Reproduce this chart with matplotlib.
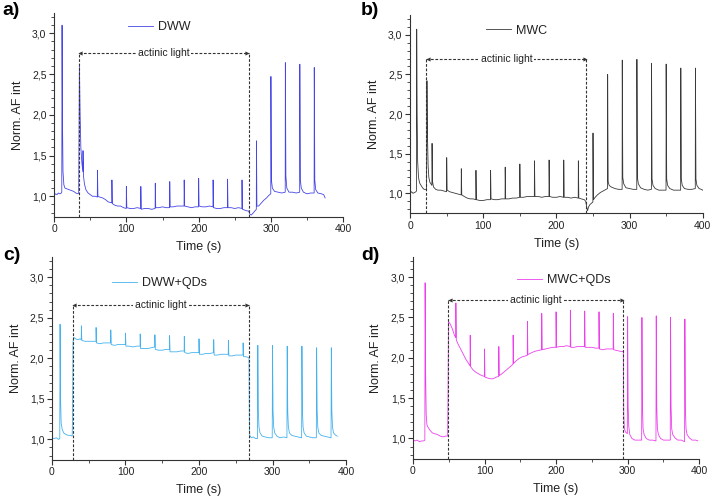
import matplotlib
matplotlib.use("Agg")
import matplotlib.pyplot as plt
from matplotlib.ticker import MultipleLocator, FuncFormatter

plt.rcParams['font.family'] = ['Liberation Sans', 'DejaVu Sans']

# ---------------- data (time s, normalised AF intensity) ----------------
a_points = [(0,1.01),(2,1.03),(4,1.02),(6,1.04),(8,1.03),(10,1.04),(10.6,1.05),(11,3.1),(11.6,1.9),(12.3,1.3),(13.5,1.14),(15,1.1),(18,1.09),(21,1.08),(24,1.07),(27,1.06),(30,1.04),(33,1.03),(34,1.04),(35,2.6),(36,2.0),(37,1.6),(38.5,1.4),(39.8,1.3),(40,1.56),(40.6,1.25),(42,1.15),(44,1.08),(47,1.04),(50,1.02),(53,1.0),(57,1.0),(59.8,0.99),(60,1.32),(60.6,1.0),(63,0.99),(67,0.98),(71,0.96),(75,0.93),(79.8,0.92),(80,1.2),(80.6,0.91),(84,0.89),(88,0.88),(92,0.88),(96,0.86),(99.8,0.85),(100,1.12),(100.6,0.86),(105,0.85),(110,0.85),(115,0.86),(119.8,0.85),(120,1.12),(120.6,0.84),(125,0.85),(130,0.85),(135,0.84),(139.8,0.85),(140,1.16),(140.6,0.86),(145,0.86),(150,0.87),(155,0.86),(159.8,0.86),(160,1.18),(160.6,0.87),(165,0.87),(170,0.88),(175,0.88),(179.8,0.88),(180,1.2),(180.6,0.88),(185,0.87),(190,0.86),(195,0.87),(199.8,0.87),(200,1.22),(200.6,0.88),(205,0.87),(210,0.87),(215,0.88),(219.8,0.87),(220,1.2),(220.6,0.86),(225,0.85),(230,0.85),(235,0.86),(239.8,0.86),(240,1.21),(240.6,0.86),(245,0.86),(250,0.85),(255,0.86),(259.8,0.85),(260,1.2),(260.6,0.84),(264,0.83),(267,0.82),(269,0.82),(271,0.78),(273,0.77),(275,0.79),(277,0.81),(279.8,0.84),(280,1.68),(280.6,0.88),(283,0.88),(286,0.91),(290,0.95),(294,0.98),(297,1.01),(299.8,1.03),(300,2.47),(300.7,1.2),(302,1.1),(305,1.06),(310,1.05),(315,1.04),(319.8,1.05),(320,2.64),(320.7,1.25),(322,1.1),(325,1.05),(330,1.05),(335,1.04),(339.8,1.05),(340,2.62),(340.7,1.2),(342,1.1),(345,1.05),(350,1.03),(355,1.04),(359.8,1.04),(360,2.58),(360.7,1.2),(362,1.08),(365,1.04),(370,1.03),(373,1.02),(375,0.98)]

b_points = [(0,1.0),(2,1.02),(4,1.0),(6,1.01),(8,1.02),(8.6,1.03),(9,3.07),(9.6,2.0),(10.3,1.4),(11.5,1.2),(13,1.13),(15,1.1),(17,1.07),(19,1.05),(21,1.05),(22.4,1.05),(23,2.42),(23.8,1.7),(24.6,1.35),(25.6,1.2),(27,1.14),(29.8,1.1),(30,1.63),(30.6,1.15),(32,1.08),(35,1.05),(38,1.04),(42,1.04),(46,1.03),(49.8,1.02),(50,1.45),(50.6,1.04),(54,1.02),(58,1.01),(62,1.0),(66,0.99),(69.8,0.98),(70,1.31),(70.6,0.98),(74,0.96),(78,0.94),(82,0.93),(86,0.93),(89.8,0.92),(90,1.29),(90.6,0.92),(95,0.91),(100,0.91),(105,0.92),(109.8,0.92),(110,1.29),(110.6,0.93),(115,0.92),(120,0.92),(125,0.93),(129.8,0.93),(130,1.33),(130.6,0.93),(135,0.93),(140,0.94),(145,0.94),(149.8,0.95),(150,1.37),(150.6,0.95),(155,0.95),(160,0.96),(165,0.96),(169.8,0.96),(170,1.41),(170.6,0.96),(175,0.96),(180,0.95),(185,0.96),(189.8,0.96),(190,1.42),(190.6,0.96),(195,0.95),(200,0.95),(205,0.96),(209.8,0.95),(210,1.42),(210.6,0.95),(215,0.95),(220,0.94),(225,0.95),(229.8,0.94),(230,1.41),(230.6,0.94),(234,0.93),(238,0.92),(240,0.9),(241.5,0.82),(242.5,0.78),(244,0.83),(246,0.86),(249.8,0.89),(250,1.76),(250.6,0.92),(253,0.95),(256,0.98),(260,1.01),(264,1.03),(268,1.05),(269.8,1.06),(270,2.5),(270.7,1.15),(272,1.1),(275,1.08),(280,1.06),(285,1.05),(289.8,1.05),(290,2.68),(290.7,1.2),(292,1.12),(295,1.07),(300,1.06),(305,1.05),(309.8,1.05),(310,2.69),(310.7,1.2),(312,1.12),(315,1.07),(320,1.05),(325,1.04),(329.8,1.05),(330,2.64),(330.7,1.18),(332,1.1),(335,1.06),(340,1.04),(345,1.04),(349.8,1.04),(350,2.63),(350.7,1.18),(352,1.1),(355,1.06),(360,1.04),(365,1.04),(369.8,1.04),(370,2.58),(370.7,1.18),(372,1.1),(375,1.06),(380,1.05),(385,1.05),(389.8,1.06),(390,2.58),(390.7,1.18),(392,1.1),(395,1.06),(398,1.05),(400,1.04)]

c_points = [(0,1.02),(3,1.01),(6,1.02),(9,1.0),(10.6,1.01),(11,2.42),(11.7,1.5),(12.5,1.2),(14,1.12),(16,1.08),(19,1.06),(22,1.05),(25,1.05),(27.5,1.04),(28,1.3),(28.6,2.2),(29.5,2.26),(32,2.24),(35,2.23),(38,2.24),(39.8,2.23),(40,2.4),(40.6,2.22),(45,2.21),(50,2.21),(55,2.21),(59.8,2.21),(60,2.38),(60.6,2.19),(65,2.18),(70,2.19),(75,2.19),(79.8,2.19),(80,2.35),(80.6,2.17),(85,2.16),(90,2.17),(95,2.17),(99.8,2.17),(100,2.31),(100.6,2.15),(105,2.15),(110,2.14),(115,2.15),(119.8,2.15),(120,2.3),(120.6,2.12),(125,2.12),(130,2.12),(135,2.13),(139.8,2.14),(140,2.29),(140.6,2.11),(145,2.1),(150,2.1),(155,2.11),(159.8,2.11),(160,2.28),(160.6,2.08),(165,2.08),(170,2.08),(175,2.09),(179.8,2.09),(180,2.27),(180.6,2.07),(185,2.06),(190,2.07),(195,2.07),(199.8,2.07),(200,2.24),(200.6,2.05),(205,2.05),(210,2.06),(215,2.06),(219.8,2.07),(220,2.23),(220.6,2.04),(225,2.04),(230,2.05),(235,2.05),(239.8,2.05),(240,2.22),(240.6,2.03),(245,2.03),(250,2.04),(255,2.04),(259.8,2.04),(260,2.19),(260.6,2.02),(264,2.02),(267,2.01),(268,2.0),(268.5,1.2),(269,1.05),(271,1.02),(274,1.03),(277,1.01),(279.6,1.01),(280,2.16),(280.7,1.35),(281.6,1.15),(283,1.08),(286,1.04),(290,1.03),(295,1.02),(299.6,1.02),(300,2.16),(300.7,1.35),(301.6,1.15),(303,1.08),(306,1.04),(310,1.02),(315,1.03),(319.6,1.02),(320,2.15),(320.7,1.35),(321.6,1.15),(323,1.08),(326,1.05),(330,1.04),(335,1.03),(339.6,1.02),(340,2.15),(340.7,1.35),(341.6,1.15),(343,1.08),(346,1.04),(350,1.03),(355,1.02),(359.6,1.02),(360,2.13),(360.7,1.35),(361.6,1.15),(363,1.08),(366,1.05),(370,1.04),(375,1.03),(379.6,1.02),(380,2.13),(380.7,1.35),(381.6,1.15),(383,1.08),(386,1.05),(388,1.04)]

d_points = [(0,0.98),(3,0.97),(6,0.98),(9,0.96),(12,0.97),(15,0.97),(16.6,0.98),(17,2.93),(17.7,1.8),(18.5,1.3),(19.5,1.17),(21,1.14),(24,1.1),(27,1.07),(30,1.06),(34,1.05),(38,1.03),(42,1.02),(46,1.03),(48.5,1.03),(49,1.5),(49.6,2.45),(52,2.42),(55,2.36),(58,2.28),(59.8,2.25),(60,2.68),(60.6,2.22),(63,2.17),(66,2.12),(70,2.05),(74,1.98),(77,1.94),(79.8,1.9),(80,2.28),(80.6,1.89),(84,1.85),(88,1.82),(92,1.8),(96,1.78),(99.8,1.77),(100,2.11),(100.6,1.76),(104,1.75),(108,1.74),(112,1.74),(116,1.76),(119.8,1.77),(120,2.14),(120.6,1.78),(124,1.8),(128,1.83),(132,1.86),(136,1.89),(139.8,1.92),(140,2.28),(140.6,1.93),(144,1.96),(148,1.99),(152,2.01),(156,2.02),(159.8,2.03),(160,2.45),(160.6,2.04),(165,2.06),(170,2.08),(175,2.09),(179.8,2.1),(180,2.55),(180.6,2.1),(185,2.11),(190,2.12),(195,2.13),(199.8,2.13),(200,2.57),(200.6,2.13),(205,2.14),(210,2.14),(215,2.15),(219.8,2.14),(220,2.59),(220.6,2.13),(225,2.13),(230,2.14),(235,2.14),(239.8,2.14),(240,2.58),(240.6,2.13),(245,2.13),(250,2.13),(255,2.12),(259.8,2.12),(260,2.57),(260.6,2.11),(265,2.1),(270,2.11),(275,2.11),(279.8,2.11),(280,2.55),(280.6,2.1),(285,2.09),(290,2.08),(293,2.08),(294,2.07),(294.6,1.3),(295.5,1.12),(297,1.08),(299.6,1.06),(300,2.51),(300.7,1.4),(301.6,1.15),(303,1.05),(306,1.0),(310,0.98),(315,0.98),(319.6,0.98),(320,2.5),(320.7,1.4),(321.6,1.12),(323,1.05),(326,1.0),(330,0.98),(335,0.98),(339.6,0.97),(340,2.52),(340.7,1.4),(341.6,1.12),(343,1.05),(346,1.0),(350,0.98),(355,0.98),(359.6,0.98),(360,2.5),(360.7,1.4),(361.6,1.12),(363,1.05),(366,1.01),(370,0.98),(375,0.98),(379.6,0.96),(380,2.48),(380.7,1.4),(381.6,1.12),(383,1.05),(386,1.01),(390,0.98),(395,0.98),(398,0.97)]

series_names = ["DWW", "MWC", "DWW+QDs", "MWC+QDs"]
panel_labels = ["a)", "b)", "c)", "d)"]
actinic_on = [34, 22, 28, 49]
actinic_off = [269, 241, 268, 294]
actinic_level = [2.76, 2.69, 2.66, 2.72]

# ---------------- styling / layout ----------------
colors = ['#4646e6', '#3a3a3a', '#45b2ee', '#ec40ec']
axes_rects = [
    [0.076, 0.565, 0.406, 0.409],
    [0.576, 0.572, 0.411, 0.398],
    [0.073, 0.077, 0.413, 0.407],
    [0.580, 0.079, 0.402, 0.405],
]
legend_anchor = [(0.238, 0.93), (0.243, 0.92), (0.186, 0.87), (0.346, 0.885)]
label_pos = [(0.004, 0.995), (0.507, 0.995), (0.004, 0.505), (0.507, 0.505)]
all_points = [a_points, b_points, c_points, d_points]

fig = plt.figure(figsize=(7.12, 4.98), dpi=100)
fmt = FuncFormatter(lambda v, p: f"{v:.1f}".replace('.', ','))
line_col = '#333333'

for i in range(4):
    ax = fig.add_axes(axes_rects[i])
    t = [p[0] for p in all_points[i]]
    v = [p[1] for p in all_points[i]]
    ax.plot(t, v, color=colors[i], lw=0.6, label=series_names[i])

    ax.set_xlim(0, 400)
    ax.set_ylim(0.75, 3.25)
    ax.xaxis.set_major_locator(MultipleLocator(100))
    ax.xaxis.set_minor_locator(MultipleLocator(50))
    ax.yaxis.set_major_locator(MultipleLocator(0.5))
    ax.yaxis.set_minor_locator(MultipleLocator(0.1))
    ax.yaxis.set_major_formatter(fmt)
    for s in ['top', 'right']:
        ax.spines[s].set_visible(False)
    for s in ['left', 'bottom']:
        ax.spines[s].set_color(line_col)
        ax.spines[s].set_linewidth(0.8)
    ax.tick_params(which='major', direction='out', length=3.5, width=0.8,
                   colors=line_col, labelsize=7.5, labelcolor='#222222', pad=2)
    ax.tick_params(which='minor', direction='out', length=2, width=0.6, colors=line_col)
    ax.set_xlabel("Time (s)", fontsize=9, color='#222222', labelpad=5)
    ax.set_ylabel("Norm. AF int", fontsize=9, color='#222222', labelpad=6)

    # actinic light annotation
    x1, x2, ya = actinic_on[i], actinic_off[i], actinic_level[i]
    for xv in (x1, x2):
        ax.plot([xv, xv], [0.75, ya], ls=(0, (2.5, 1.5)), color=line_col, lw=0.8,
                clip_on=False)
    ax.plot([x1, x2], [ya, ya], ls=(0, (2.5, 1.5)), color=line_col, lw=0.8)
    ax.plot([x1 + 2.5], [ya], marker='<', ms=3, color=line_col, mew=0)
    ax.plot([x2 - 2.5], [ya], marker='>', ms=3, color=line_col, mew=0)
    ax.text((x1 + x2) / 2, ya, "actinic light", ha='center', va='center',
            fontsize=7.5, color='#222222',
            bbox=dict(facecolor='white', edgecolor='none', pad=1.5))

    leg = ax.legend(loc='center left', bbox_to_anchor=legend_anchor[i], frameon=False,
                    fontsize=9, handlelength=2.0, handletextpad=0.4, borderaxespad=0)
    for txt in leg.get_texts():
        txt.set_color('#222222')

    fig.text(label_pos[i][0], label_pos[i][1], panel_labels[i], fontsize=14,
             fontweight='bold', va='top', ha='left')

fig.savefig("out.png", dpi=100)
